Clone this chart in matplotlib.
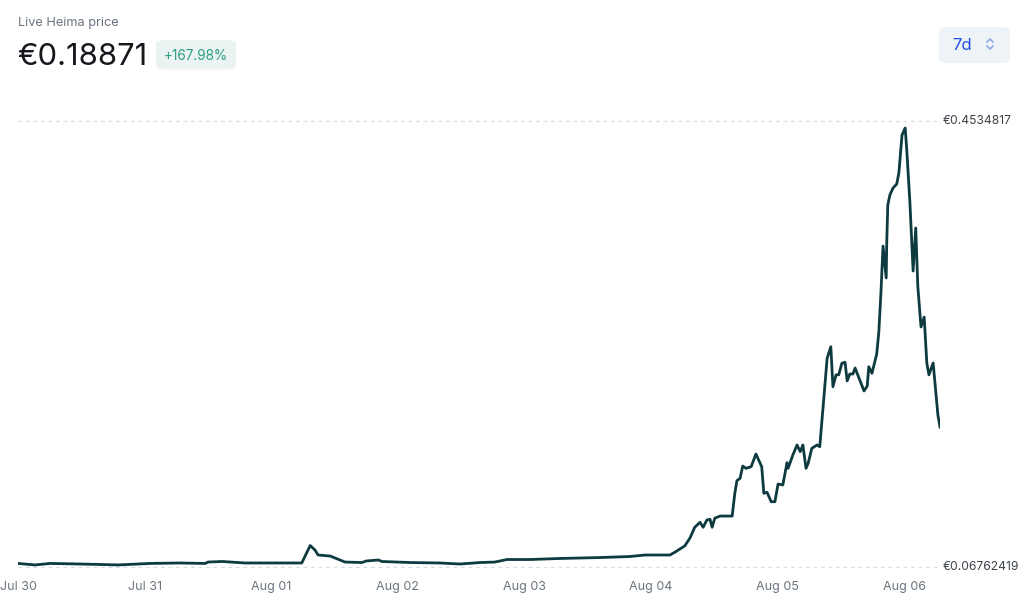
import matplotlib
matplotlib.use("Agg")
import matplotlib.pyplot as plt
from matplotlib.patches import FancyBboxPatch
from matplotlib.lines import Line2D
from matplotlib.transforms import blended_transform_factory

plt.rcParams['font.family'] = ['Inter', 'DejaVu Sans']

# hours since Jul 30 00:00 and price in EUR
hours = [0.0, 3.2, 6.1, 11.8, 15.6, 19.0, 25.0, 30.7, 35.5, 36.0, 38.7, 43.0, 46.8,
         53.8, 55.4, 56.3, 56.9, 59.2, 62.0, 65.2, 66.0, 68.3, 69.0, 74.3, 80.0,
         83.8, 87.6, 90.4, 92.7, 97.1, 102.8, 110.3, 116.0, 118.9, 123.6, 124.6,
         126.4, 127.4, 128.3, 129.3, 129.9, 130.6, 131.2, 131.6, 132.1, 133.1,
         135.4, 135.9, 136.3, 136.9, 137.4, 138.0, 139.0, 139.9, 141.0, 141.4,
         142.0, 142.8, 143.5, 144.1, 145.0, 145.8, 146.0, 146.9, 147.7, 148.3,
         148.8, 149.4, 149.8, 150.5, 151.5, 152.0, 152.8, 153.4, 154.1, 154.5,
         155.1, 155.6, 156.2, 156.8, 157.2, 157.7, 158.3, 158.7, 160.4, 161.0,
         161.3, 161.9, 162.8, 163.2, 163.6, 164.0, 164.6, 164.7, 164.9, 165.3,
         165.9, 166.6, 167.0, 167.6, 168.2, 168.5, 169.1, 169.7, 170.2, 170.6,
         171.2, 171.8, 172.3, 172.7, 173.5, 174.4, 174.8]
prices = [0.0707, 0.0694, 0.0707, 0.0702, 0.0698, 0.0694, 0.0707, 0.0711, 0.0707,
          0.0719, 0.0724, 0.0711, 0.0711, 0.0711, 0.0862, 0.0823, 0.0780, 0.0771,
          0.0719, 0.0715, 0.0728, 0.0737, 0.0724, 0.0715, 0.0711, 0.0702, 0.0715,
          0.0719, 0.0741, 0.0741, 0.0750, 0.0758, 0.0767, 0.0780, 0.0780, 0.0806,
          0.0858, 0.0927, 0.1020, 0.1063, 0.1020, 0.1083, 0.1089, 0.1020, 0.1098,
          0.1117, 0.1117, 0.1314, 0.1423, 0.1444, 0.1550, 0.1530, 0.1544, 0.1654,
          0.1544, 0.1314, 0.1323, 0.1241, 0.1241, 0.1394, 0.1386, 0.1579, 0.1530,
          0.1645, 0.1732, 0.1674, 0.1732, 0.1530, 0.1573, 0.1703, 0.1732, 0.1717,
          0.2150, 0.2482, 0.2582, 0.2236, 0.2339, 0.2339, 0.2439, 0.2447, 0.2286,
          0.2346, 0.2346, 0.2398, 0.2199, 0.2242, 0.2409, 0.2352, 0.2519, 0.2709,
          0.3047, 0.3453, 0.3177, 0.3479, 0.3808, 0.3895, 0.3955, 0.3990, 0.4085,
          0.4414, 0.4474, 0.4284, 0.3825, 0.3237, 0.3609, 0.3099, 0.2753, 0.2839,
          0.2441, 0.2339, 0.2441, 0.1992, 0.18871]

price_min = 0.06762419
price_max = 0.4534817
tick_hours = [0, 24, 48, 72, 96, 120, 144, 168]
tick_labels = ['Jul 30', 'Jul 31', 'Aug 01', 'Aug 02', 'Aug 03', 'Aug 04', 'Aug 05', 'Aug 06']

W, H = 1024, 615
fig = plt.figure(figsize=(W / 100, H / 100), dpi=100)
fig.patch.set_facecolor('white')


def fx(x):
    return x / W


def fy(y):
    return 1 - y / H


ax = fig.add_axes([fx(18), fy(567), (940 - 18) / W, (567 - 121) / H])
ax.plot(hours, prices, color='#0d3b3f', lw=2.0, solid_joinstyle='round')
ax.set_xlim(0, 174.8)
ax.set_ylim(price_min, price_max)
for v in (price_min, price_max):
    ax.axhline(v, color='#d9dde2', lw=0.9, ls=(0, (3, 3)), clip_on=False, zorder=0)
for s in ax.spines.values():
    s.set_visible(False)
ax.set_yticks([])
ax.set_xticks(tick_hours)
ax.set_xticklabels(tick_labels)
ax.tick_params(axis='x', length=0, pad=10, labelsize=9, labelcolor='#6b7480')

tr = blended_transform_factory(ax.transAxes, ax.transData)
for v in (price_max, price_min):
    ax.text(1 + 3 / 922, v, f'€{v:.8g}', transform=tr, ha='left', va='center',
            fontsize=8.7, color='#3d434a')

# header
fig.text(fx(18), fy(23), 'Live Heima price', fontsize=9.2, color='#6b7480', va='center')
fig.text(fx(17), fy(57), '€0.18871', fontsize=22.3, color='#14181d', va='center')

badge = FancyBboxPatch((fx(160), fy(67)), fx(72), (69 - 42) / H - 0.004,
                       boxstyle='round,pad=0.004,rounding_size=0.008',
                       transform=fig.transFigure, fc='#ecf3f3', ec='none')
fig.patches.append(badge)
fig.text(fx(196), fy(56), '+167.98%', fontsize=9.8, color='#2a9e86', ha='center', va='center')

btn = FancyBboxPatch((fx(944), fy(60)), fx(61), (63 - 27) / H - 0.01,
                     boxstyle='round,pad=0.005,rounding_size=0.008',
                     transform=fig.transFigure, fc='#edf3f6', ec='none')
fig.patches.append(btn)
fig.text(fx(952), fy(45), '7d', fontsize=12, color='#2350e6', va='center')
fig.add_artist(Line2D([fx(987), fx(990), fx(993)], [fy(42), fy(39), fy(42)],
                      color='#8aa2ec', lw=1.1, transform=fig.transFigure))
fig.add_artist(Line2D([fx(987), fx(990), fx(993)], [fy(46), fy(49), fy(46)],
                      color='#8aa2ec', lw=1.1, transform=fig.transFigure))

fig.savefig('out.png', dpi=100)
